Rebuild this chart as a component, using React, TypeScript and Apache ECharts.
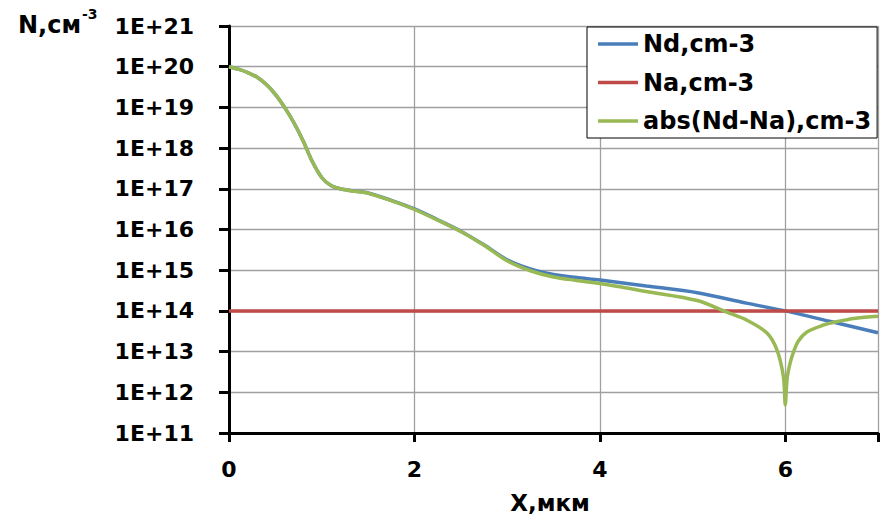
import React, { useEffect, useRef } from "react";
import * as echarts from "echarts";

// X positions (µm) and concentrations (cm^-3)
const ndX = [0, 0.1, 0.2, 0.3, 0.4, 0.5, 0.6, 0.7, 0.8, 0.9, 1.0, 1.1, 1.2, 1.33, 1.5, 1.75, 2.0, 2.25, 2.5, 2.75, 3.0, 3.25, 3.5, 3.75, 4.0, 4.5, 5.05, 5.58, 6.0, 6.5, 7.0];
const ndValues = [1.0e20, 8.7e19, 7.2e19, 5.6e19, 3.7e19, 2.1e19, 1.0e19, 4.2e18, 1.5e18, 4.6e17, 1.9e17, 1.2e17, 1.0e17, 8.9e16, 7.9e16, 5.2e16, 3.2e16, 1.74e16, 9.1e15, 4.2e15, 1.8e15, 1.07e15, 7.8e14, 6.6e14, 5.75e14, 4.1e14, 2.8e14, 1.55e14, 1.0e14, 5.4e13, 2.9e13];

const naX = [0, 7];
const naValues = [1.0e14, 1.0e14];

const absX = [0, 0.1, 0.2, 0.3, 0.4, 0.5, 0.6, 0.7, 0.8, 0.9, 1.0, 1.1, 1.2, 1.33, 1.5, 1.75, 2.0, 2.25, 2.5, 2.75, 3.0, 3.25, 3.5, 3.75, 4.0, 4.5, 5.05, 5.37, 5.58, 5.8, 5.91, 5.98, 6.0, 6.02, 6.05, 6.09, 6.14, 6.23, 6.4, 6.55, 6.76, 7.0];
const absValues = [1.0e20, 8.7e19, 7.2e19, 5.6e19, 3.7e19, 2.1e19, 1.0e19, 4.2e18, 1.5e18, 4.6e17, 1.9e17, 1.2e17, 1.0e17, 8.8e16, 7.8e16, 5.1e16, 3.1e16, 1.7e16, 8.9e15, 4.1e15, 1.7e15, 9.7e14, 6.8e14, 5.6e14, 4.7e14, 3.0e14, 1.8e14, 9.3e13, 6.0e13, 2.9e13, 1.1e13, 2.4e12, 4.9e11, 2.2e12, 5.0e12, 1.0e13, 1.8e13, 3.0e13, 4.4e13, 5.4e13, 6.6e13, 7.4e13];

const seriesNames = ["Nd,cm-3", "Na,cm-3", "abs(Nd-Na),cm-3"];
const seriesColors = ["#4A7EBB", "#BE4B48", "#98B954"];

const xTicks = [0, 2, 4, 6];
const yExpMin = 11;
const yExpMax = 21;

const FONT = "DejaVu Sans";

function toPairs(xs: number[], vs: number[]) {
  return xs.map((x, i) => [x, Math.log10(vs[i])]);
}

export default function App() {
  const ref = useRef<HTMLDivElement>(null);
  useEffect(() => {
    document.body.style.margin = "0";
    const chart = echarts.init(ref.current!, null, { renderer: "svg" });
    const labelStyle = { fontFamily: FONT, fontWeight: "bold" as const, fontSize: 22, color: "#000" };
    const mk = (i: number, data: number[][]) => ({
      name: seriesNames[i],
      type: "line",
      data,
      symbol: "none",
      smooth: 0.3,
      lineStyle: { color: seriesColors[i], width: 3.5 },
      itemStyle: { color: seriesColors[i] },
    });
    chart.setOption({
      animation: false,
      grid: { left: 229, top: 26, right: 0, bottom: 89 },
      xAxis: {
        type: "value",
        min: 0,
        max: 7,
        interval: 2,
        axisLine: { lineStyle: { color: "#000", width: 3 } },
        axisTick: { show: true, length: 9, lineStyle: { color: "#000", width: 3 } },
        axisLabel: {
          ...labelStyle,
          margin: 25,
          formatter: (v: number) => (xTicks.includes(v) ? String(v) : ""),
        },
        splitLine: { show: true, lineStyle: { color: "#A0A0A0", width: 1.3 } },
      },
      yAxis: {
        type: "value",
        min: yExpMin,
        max: yExpMax,
        interval: 1,
        axisLine: { show: true, lineStyle: { color: "#000", width: 3 } },
        axisTick: { show: true, length: 10, lineStyle: { color: "#000", width: 3 } },
        axisLabel: {
          ...labelStyle,
          margin: 35,
          formatter: (v: number) => "1E+" + Math.round(v),
        },
        splitLine: { show: true, lineStyle: { color: "#A0A0A0", width: 1.3 } },
      },
      legend: {
        orient: "vertical",
        left: 587,
        top: 27,
        padding: [2, 6, 2, 11],
        itemGap: 8.5,
        itemWidth: 40,
        itemHeight: 3.5,
        icon: "rect",
        backgroundColor: "#fff",
        borderColor: "#000",
        borderWidth: 1,
        borderRadius: 0,
        textStyle: { fontFamily: FONT, fontWeight: "bold", fontSize: 24, lineHeight: 30, color: "#000" },
        data: seriesNames,
      },
      graphic: [
        {
          type: "text",
          x: 18,
          y: 25,
          style: { text: "N,см", fontFamily: FONT, fontWeight: "bold", fontSize: 24, fill: "#000", align: "left", verticalAlign: "middle" },
        },
        {
          type: "text",
          x: 82,
          y: 14,
          style: { text: "-3", fontFamily: FONT, fontWeight: "bold", fontSize: 14, fill: "#000", align: "left", verticalAlign: "middle" },
        },
        {
          type: "text",
          x: 550,
          y: 503,
          style: { text: "X,мкм", fontFamily: FONT, fontWeight: "bold", fontSize: 23, fill: "#000", align: "center", verticalAlign: "middle" },
        },
      ],
      series: [mk(0, toPairs(ndX, ndValues)), mk(1, toPairs(naX, naValues)), mk(2, toPairs(absX, absValues))],
    });
    return () => chart.dispose();
  }, []);
  return <div ref={ref} style={{ width: 881, height: 522 }} />;
}
